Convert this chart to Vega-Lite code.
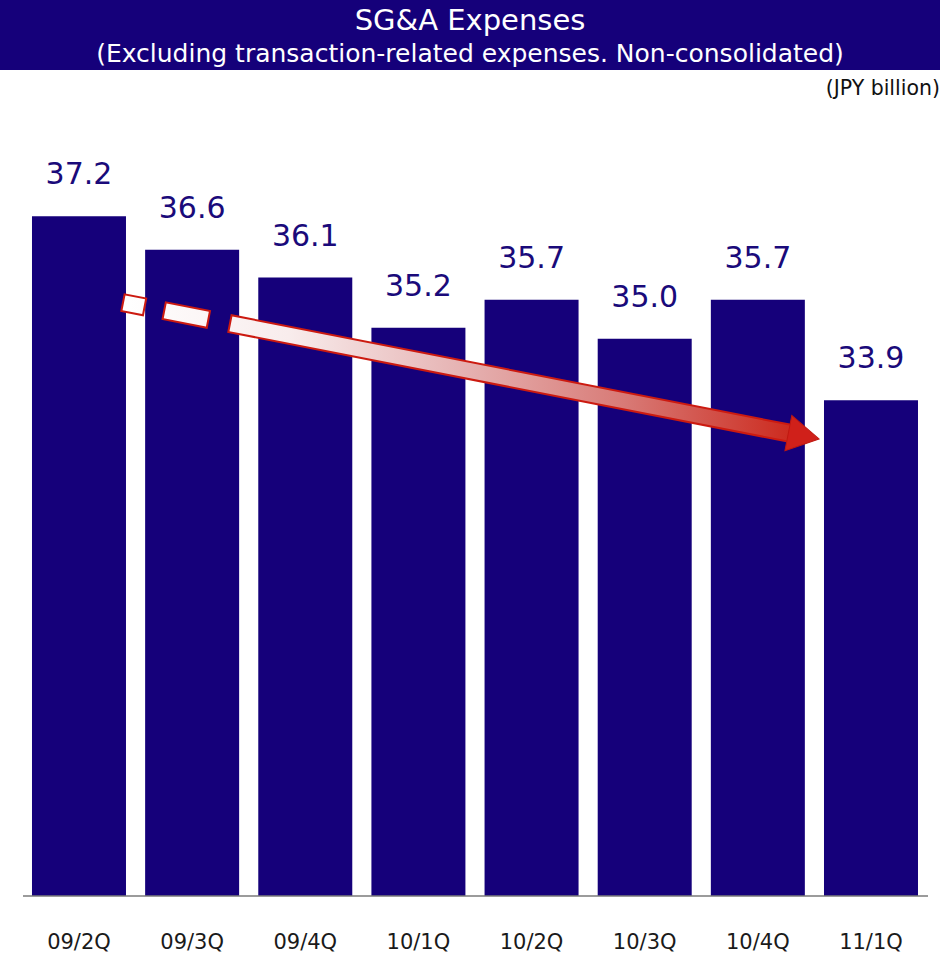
{
  "$schema": "https://vega.github.io/schema/vega-lite/v6.json",
  "background": "white",
  "padding": 0,
  "spacing": 8,
  "config": {"view": {"stroke": null}},
  "datasets": {
    "titles": [
      {"line": "title", "label": "SG&A Expenses"},
      {"line": "subtitle", "label": "(Excluding transaction-related expenses. Non-consolidated)"}
    ],
    "bars": [
      {"q": "09/2Q", "v": 37.2},
      {"q": "09/3Q", "v": 36.6},
      {"q": "09/4Q", "v": 36.1},
      {"q": "10/1Q", "v": 35.2},
      {"q": "10/2Q", "v": 35.7},
      {"q": "10/3Q", "v": 35.0},
      {"q": "10/4Q", "v": 35.7},
      {"q": "11/1Q", "v": 33.9}
    ],
    "base": [{"u1": -0.495, "u2": 7.504, "v": 25}],
    "arrow": [{"u1": 0.38, "v1": 35.653, "u2": 6.302, "v2": 33.298}],
    "head": [{"u": 6.405, "v": 33.256}]
  },
  "vconcat": [
    {
      "width": 940,
      "height": 70,
      "view": {"fill": "#15007a", "stroke": null},
      "data": {"name": "titles"},
      "encoding": {
        "y": {"field": "line", "type": "ordinal", "scale": {"type": "point", "domain": ["title", "subtitle"], "padding": 0.5}, "axis": null},
        "text": {"field": "label", "type": "nominal"}
      },
      "layer": [
        {
          "transform": [{"filter": "datum.line === 'title'"}],
          "mark": {"type": "text", "color": "white", "fontSize": 29, "font": "DejaVu Sans", "baseline": "alphabetic", "align": "center", "dy": 12}
        },
        {
          "transform": [{"filter": "datum.line === 'subtitle'"}],
          "mark": {"type": "text", "color": "white", "fontSize": 25, "font": "DejaVu Sans", "baseline": "alphabetic", "align": "center", "dy": 9.5}
        }
      ]
    },
    {
      "width": 940,
      "height": 780,
      "title": {"text": "(JPY billion)", "anchor": "end", "frame": "group", "fontSize": 20.5, "font": "DejaVu Sans", "fontWeight": "normal", "color": "#111111", "baseline": "alphabetic", "offset": 1},
      "layer": [
        {
          "data": {"name": "bars"},
          "layer": [
            {
              "mark": {"type": "bar", "color": "#15007a"},
              "encoding": {
                "x": {"field": "q", "type": "ordinal", "sort": null,
                      "scale": {"paddingInner": 0.1692, "paddingOuter": 0.2386, "align": 0.5924},
                      "axis": {"title": null, "domain": false, "ticks": false, "labelAngle": 0, "labelFontSize": 21, "labelFont": "DejaVu Sans", "labelColor": "#1a1a1a", "labelPadding": 35, "labelBaseline": "top"}},
                "y": {"field": "v", "type": "quantitative", "scale": {"domain": [25, 39], "zero": false, "nice": false}, "axis": null},
                "y2": {"datum": 25}
              }
            },
            {
              "mark": {"type": "text", "color": "#1a0a7a", "fontSize": 30, "font": "DejaVu Sans", "baseline": "alphabetic", "dy": -32},
              "encoding": {
                "x": {"field": "q", "type": "ordinal", "sort": null},
                "y": {"field": "v", "type": "quantitative"},
                "text": {"field": "v", "type": "quantitative", "format": ".1f"}
              }
            }
          ]
        },
        {
          "layer": [
            {
              "data": {"name": "base"},
              "mark": {"type": "rule", "color": "#7a7a7a", "strokeWidth": 1.5},
              "encoding": {
                "x": {"field": "u1", "type": "quantitative", "scale": {"domain": [-0.6983, 7.61], "nice": false, "zero": false}, "axis": null},
                "x2": {"field": "u2"},
                "y": {"field": "v", "type": "quantitative"}
              }
            },
            {
              "data": {"name": "arrow"},
              "mark": {"type": "rule", "color": "#cc1a10", "strokeWidth": 19, "strokeCap": "butt", "strokeDash": [24, 18, 47, 20, 2000, 0]},
              "encoding": {
                "x": {"field": "u1", "type": "quantitative"},
                "x2": {"field": "u2"},
                "y": {"field": "v1", "type": "quantitative"},
                "y2": {"field": "v2"}
              }
            },
            {
              "data": {"name": "arrow"},
              "mark": {"type": "rule", "strokeWidth": 15, "strokeCap": "butt", "strokeDash": [0.01, 2, 20, 22, 43, 24, 2000, 0],
                       "stroke": {"gradient": "linear", "x1": 0, "y1": 0, "x2": 1, "y2": 0,
                                  "stops": [{"offset": 0, "color": "#ffffff"}, {"offset": 0.25, "color": "#f8ecec"}, {"offset": 0.5, "color": "#e6b4b4"}, {"offset": 0.75, "color": "#d87a76"}, {"offset": 1, "color": "#cc2a1e"}]}},
              "encoding": {
                "x": {"field": "u1", "type": "quantitative"},
                "x2": {"field": "u2"},
                "y": {"field": "v1", "type": "quantitative"},
                "y2": {"field": "v2"}
              }
            },
            {
              "data": {"name": "head"},
              "mark": {"type": "point", "shape": "triangle-right", "filled": true, "size": 1296, "angle": 11, "color": "#d0201a", "opacity": 1, "stroke": "#c01810", "strokeWidth": 1},
              "encoding": {
                "x": {"field": "u", "type": "quantitative"},
                "y": {"field": "v", "type": "quantitative"}
              }
            }
          ]
        }
      ],
      "resolve": {"scale": {"x": "independent"}}
    }
  ]
}
